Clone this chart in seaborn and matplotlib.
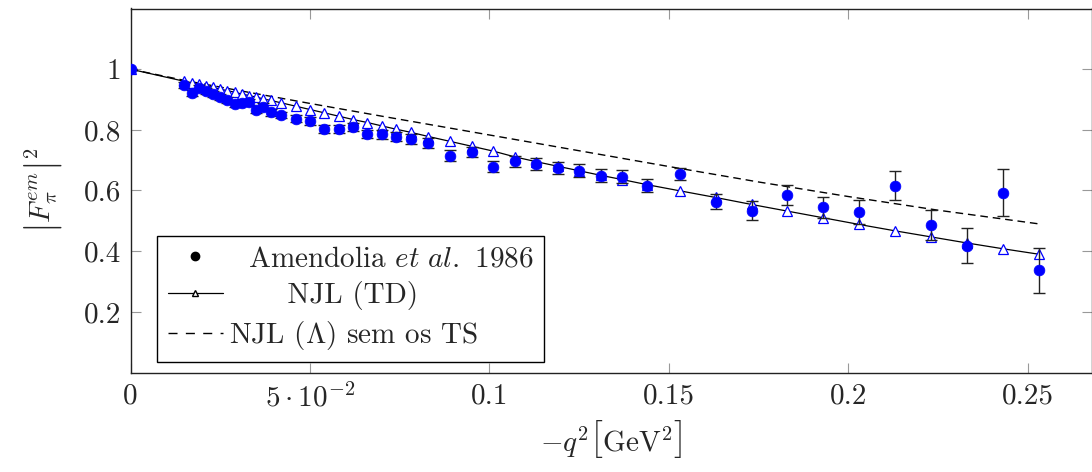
import numpy as np
import pandas as pd
import matplotlib
matplotlib.use("Agg")
import matplotlib.pyplot as plt
from matplotlib.lines import Line2D
import seaborn as sns

# Amendolia et al. 1986 data
q2_data = [0.0, 0.015, 0.017, 0.019, 0.021, 0.023, 0.025, 0.027, 0.029, 0.031,
           0.033, 0.035, 0.037, 0.039, 0.042, 0.046, 0.050, 0.054, 0.058, 0.062,
           0.066, 0.070, 0.074, 0.078, 0.083, 0.089, 0.095, 0.101, 0.107, 0.113,
           0.119, 0.125, 0.131, 0.137, 0.144, 0.153, 0.163, 0.173, 0.183, 0.193,
           0.203, 0.213, 0.223, 0.233, 0.243, 0.253]
ff_data = [1.000, 0.947, 0.920, 0.937, 0.929, 0.918, 0.909, 0.898, 0.884, 0.887,
           0.892, 0.867, 0.876, 0.858, 0.849, 0.837, 0.829, 0.802, 0.802, 0.810,
           0.787, 0.786, 0.777, 0.770, 0.757, 0.715, 0.726, 0.679, 0.697, 0.688,
           0.674, 0.665, 0.649, 0.646, 0.616, 0.654, 0.563, 0.534, 0.586, 0.544,
           0.529, 0.616, 0.487, 0.418, 0.593, 0.337]
ff_err = [0.000, 0.010, 0.010, 0.010, 0.010, 0.010, 0.010, 0.010, 0.010, 0.010,
          0.010, 0.010, 0.011, 0.011, 0.011, 0.012, 0.012, 0.013, 0.013, 0.014,
          0.014, 0.015, 0.015, 0.016, 0.016, 0.017, 0.017, 0.017, 0.018, 0.019,
          0.020, 0.021, 0.021, 0.022, 0.022, 0.021, 0.024, 0.031, 0.033, 0.036,
          0.040, 0.048, 0.049, 0.058, 0.077, 0.074]

# NJL (TD), evaluated at the data points
ff_td = [1.000, 0.960, 0.955, 0.950, 0.945, 0.940, 0.934, 0.929, 0.924, 0.918,
         0.913, 0.908, 0.902, 0.897, 0.889, 0.878, 0.867, 0.856, 0.845, 0.834,
         0.824, 0.813, 0.802, 0.792, 0.778, 0.762, 0.746, 0.730, 0.711, 0.695,
         0.680, 0.665, 0.650, 0.636, 0.619, 0.599, 0.577, 0.554, 0.532, 0.510,
         0.488, 0.467, 0.447, 0.427, 0.408, 0.390]

# NJL (Lambda) sem os TS
q2_lam = [0.0, 0.015, 0.030, 0.050, 0.070, 0.100, 0.125, 0.150, 0.175, 0.200, 0.225, 0.253]
ff_lam = [1.000, 0.963, 0.930, 0.887, 0.845, 0.783, 0.731, 0.679, 0.628, 0.580, 0.535, 0.490]

xticks = [0, 0.05, 0.1, 0.15, 0.2, 0.25]
xticklabels = ["0", r"$5\cdot10^{-2}$", "0.1", "0.15", "0.2", "0.25"]
yticks = [0.2, 0.4, 0.6, 0.8, 1.0]
yticklabels = ["0.2", "0.4", "0.6", "0.8", "1"]

FS = 21

sns.set_style("ticks")
plt.rcParams["font.family"] = "serif"
plt.rcParams["font.serif"] = ["cmr10", "DejaVu Serif"]
plt.rcParams["mathtext.fontset"] = "cm"
plt.rcParams["axes.unicode_minus"] = False
plt.rcParams["font.size"] = FS

td = pd.DataFrame({"q2": q2_data, "ff": ff_td})
lam = pd.DataFrame({"q2": q2_lam, "ff": ff_lam})

fig = plt.figure(figsize=(10.92, 4.72), dpi=100)
ax = fig.add_axes([130.5 / 1092, 99.5 / 472, 961 / 1092, 364 / 472])

# model curves
sns.lineplot(data=lam, x="q2", y="ff", ax=ax, color="black", lw=1.0,
             linestyle=(0, (5.5, 3.5)), zorder=2)
sns.lineplot(data=td, x="q2", y="ff", ax=ax, color="black", lw=0.9,
             marker="^", markersize=6.5, markeredgecolor="blue",
             markerfacecolor="white", markeredgewidth=0.9, zorder=3)

# data with error bars
ax.errorbar(q2_data, ff_data, yerr=ff_err, fmt="none", ecolor="#222222",
            elinewidth=1.0, capsize=4, capthick=1.0, zorder=4)
sns.scatterplot(x=q2_data, y=ff_data, ax=ax, color="blue", s=60,
                edgecolor="blue", linewidth=0.5, zorder=5)

ax.set_xlim(0, 0.2677)
ax.set_ylim(0, 1.2)
ax.set_xticks(xticks)
ax.set_xticklabels(xticklabels)
ax.set_yticks(yticks)
ax.set_yticklabels(yticklabels)
ax.tick_params(direction="in", length=7, width=0.8, color="#999999",
               top=True, right=True, labelsize=FS)
ax.tick_params(axis="x", pad=8)
ax.tick_params(axis="y", pad=7)
for sp in ax.spines.values():
    sp.set_color("#222222")
    sp.set_linewidth(1.0)

ax.set_xlabel(r"$-q^2\left[\overset{\,}{\underset{\,}{\mathrm{GeV}^2}}\right]$",
              fontsize=FS, labelpad=4)
ax.set_ylabel(r"$\left|\overset{\,}{\underset{\,}{F_\pi^{em}}}\right|^2$",
              fontsize=FS, labelpad=14)

handles = [
    Line2D([], [], ls="none", marker="o", color="black", markersize=6),
    Line2D([], [], color="black", lw=0.9, marker="^", markersize=5,
           markerfacecolor="white", markeredgecolor="black"),
    Line2D([], [], color="black", lw=1.0, linestyle=(0, (6.5, 6))),
]
labels = [r"  Amendolia $\it{et\ al.}$ 1986$\quad$", "      NJL (TD)",
          r"NJL ($\Lambda$) sem os TS"]
leg = ax.legend(handles, labels, loc="lower left", bbox_to_anchor=(0.028, 0.028),
                borderaxespad=0, frameon=True, fancybox=False, fontsize=FS,
                handlelength=1.9, handletextpad=0.2, labelspacing=0.3,
                borderpad=0.35)
leg.get_frame().set_edgecolor("black")
leg.get_frame().set_linewidth(1.0)
leg.get_frame().set_alpha(1)

fig.savefig("out.png", dpi=100)
